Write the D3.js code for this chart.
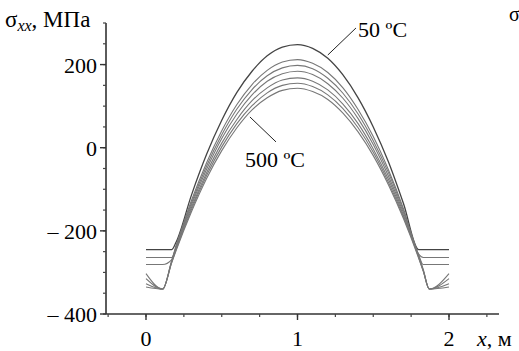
<!DOCTYPE html>
<html>
<head>
<meta charset="utf-8">
<script src="https://cdn.jsdelivr.net/npm/d3@7"></script>
<style>
  body { margin: 0; background: #fff; }
</style>
</head>
<body>
<div id="chart"></div>
<script>
// x positions (m) shared by all curves
const xs = [0, 0.11, 0.17, 0.2, 0.3, 0.4, 0.5, 0.6, 0.7, 0.8, 0.9, 1.0, 1.1, 1.2, 1.3, 1.4, 1.5, 1.6, 1.7, 1.8, 1.83, 1.87, 2.0];

// sigma_xx (MPa), 50 C on top down to 500 C
const s50  = [-245, -245, -245, -226, -114, -16, 66, 133, 184, 221, 242, 248, 239, 215, 175, 120, 50, -34, -135, -245, -245, -245, -245];
const s2   = [-264, -264, -264, -233, -127, -36, 41, 104, 152, 186, 206, 212, 203, 181, 144, 92, 27, -53, -147, -256, -264, -264, -264];
const s3   = [-281, -281, -269, -236, -133, -44, 31, 93, 140, 173, 192, 198, 190, 167, 131, 81, 17, -60, -152, -258, -281, -281, -281];
const s4   = [-303, -340, -271, -238, -138, -52, 22, 81, 127, 160, 178, 184, 176, 154, 119, 70, 8, -68, -157, -260, -293, -340, -303];
const s5   = [-315, -340, -273, -241, -144, -60, 11, 68, 113, 144, 163, 168, 160, 139, 105, 58, -3, -76, -163, -262, -295, -340, -315];
const s6   = [-327, -340, -275, -244, -149, -67, 2, 58, 101, 132, 150, 155, 147, 127, 94, 48, -11, -83, -167, -264, -296, -340, -327];
const s500 = [-335, -340, -276, -246, -154, -74, -7, 48, 91, 120, 138, 143, 135, 116, 83, 38, -19, -89, -171, -266, -297, -340, -335];

const series = [s50, s2, s3, s4, s5, s6, s500];

const yMajor = [-400, -200, 0, 200];
const xMajor = [0, 1, 2];

// annotation labels: text, pointer (x, y), leader end (x, y), text anchor (x, y)
const noteText = ['50 ºC', '500 ºC'];
const notePoint = [[1.2, 223], [0.686, 74]];
const noteEnd = [[1.386, 288], [0.858, 14]];
const noteAt = [[1.4, 266], [0.653, -46]];

const W = 519, H = 351;
const FONT = '"Liberation Serif", "Times New Roman", serif';

const x = d3.scaleLinear().domain([0, 2]).range([146, 449]);
const y = d3.scaleLinear().domain([-400, 300]).range([314, 23]);

const svg = d3.select('#chart').append('svg')
  .attr('width', W)
  .attr('height', H)
  .style('font-family', FONT);

const xMinor = d3.range(-0.25, 2.26, 0.25);
const yMinor = d3.range(-400, 301, 50);

// y axis
const yAxis = svg.append('g')
  .attr('transform', `translate(${x(-0.264)},0)`);

yAxis.append('line')
  .attr('y1', y(-400)).attr('y2', y(300))
  .attr('stroke', '#333').attr('stroke-width', 1.6);

yAxis.selectAll('.minor').data(yMinor).enter().append('line')
  .attr('x1', -3).attr('x2', 0)
  .attr('y1', d => y(d)).attr('y2', d => y(d))
  .attr('stroke', '#444').attr('stroke-width', 1.2);

yAxis.selectAll('.major').data(yMajor).enter().append('line')
  .attr('x1', -6).attr('x2', 0)
  .attr('y1', d => y(d)).attr('y2', d => y(d))
  .attr('stroke', '#333').attr('stroke-width', 1.4);

yAxis.selectAll('.lbl').data(yMajor).enter().append('text')
  .attr('x', -9)
  .attr('y', d => y(d) + 8)
  .attr('text-anchor', 'end')
  .style('font-family', FONT)
  .style('font-size', '22px')
  .text(d => d < 0 ? '– ' + Math.abs(d) : d);

// x axis
const xAxis = svg.append('g')
  .attr('transform', `translate(0,${y(-400)})`);

xAxis.append('line')
  .attr('x1', x(-0.264)).attr('x2', x(2.33))
  .attr('stroke', '#333').attr('stroke-width', 1.6);

xAxis.selectAll('.minor').data(xMinor).enter().append('line')
  .attr('x1', d => x(d)).attr('x2', d => x(d))
  .attr('y1', 0).attr('y2', 3)
  .attr('stroke', '#444').attr('stroke-width', 1.2);

xAxis.selectAll('.major').data(xMajor).enter().append('line')
  .attr('x1', d => x(d)).attr('x2', d => x(d))
  .attr('y1', 0).attr('y2', 6)
  .attr('stroke', '#333').attr('stroke-width', 1.4);

xAxis.selectAll('.lbl').data(xMajor).enter().append('text')
  .attr('x', d => x(d))
  .attr('y', 32)
  .attr('text-anchor', 'middle')
  .style('font-family', FONT)
  .style('font-size', '22px')
  .text(d => d);

// axis titles
const yt = svg.append('text').attr('x', 5).attr('y', 27)
  .style('font-family', FONT).style('font-size', '23px');
yt.append('tspan').text('σ');
yt.append('tspan').attr('dy', 4).style('font-size', '16px').style('font-style', 'italic').text('xx');
yt.append('tspan').attr('dy', -4).text(', МПа');

const xt = svg.append('text').attr('x', 477).attr('y', 346)
  .style('font-family', FONT).style('font-size', '22px');
xt.append('tspan').style('font-style', 'italic').text('x');
xt.append('tspan').text(', м');

// stray glyph from neighbouring panel
svg.append('text').attr('x', 509).attr('y', 21)
  .style('font-family', FONT).style('font-size', '20px').text('σ');

// curves
const line = d3.line()
  .x((d, i) => x(xs[i]))
  .y(d => y(d))
  .curve(d3.curveMonotoneX);

svg.append('g').selectAll('path').data(series).enter().append('path')
  .attr('d', d => line(d))
  .attr('fill', 'none')
  .attr('stroke', (d, i) => i === 0 ? '#444' : '#777')
  .attr('stroke-width', (d, i) => i === 0 ? 1.3 : 1.1);

// annotations
noteText.forEach((t, i) => {
  svg.append('line')
    .attr('x1', x(notePoint[i][0])).attr('y1', y(notePoint[i][1]))
    .attr('x2', x(noteEnd[i][0])).attr('y2', y(noteEnd[i][1]))
    .attr('stroke', '#222').attr('stroke-width', 1);
  svg.append('text')
    .attr('x', x(noteAt[i][0]))
    .attr('y', y(noteAt[i][1]))
    .style('font-family', FONT)
    .style('font-size', '22px')
    .text(t);
});
</script>
</body>
</html>
